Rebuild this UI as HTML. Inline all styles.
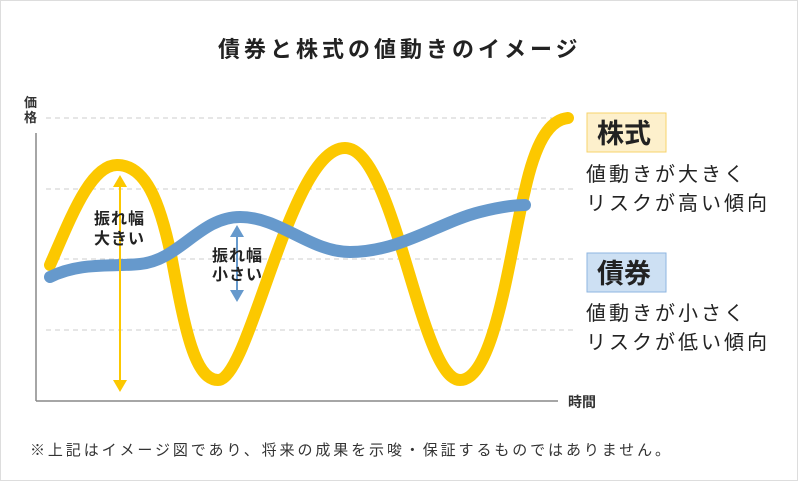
<!DOCTYPE html>
<html><head><meta charset="utf-8"><style>
html,body{margin:0;padding:0;background:#fff}
body{width:800px;height:481px;overflow:hidden;position:relative;font-family:"Liberation Sans","Noto Sans CJK JP",sans-serif;color:#222}
svg{position:absolute;left:0;top:0}
</style></head><body>
<svg width="800" height="481" viewBox="0 0 800 481">
<rect x="0.5" y="0.5" width="797" height="480" fill="none" stroke="#ddd"/>
<text x="218" y="57" font-size="22" font-weight="bold" letter-spacing="4" fill="#222" font-family="Liberation Sans, Noto Sans CJK JP, sans-serif">債券と株式の値動きのイメージ</text>
<g stroke="#ccc" stroke-width="1" stroke-dasharray="5,4">
<line x1="46" y1="118" x2="576" y2="118"/>
<line x1="46" y1="189" x2="576" y2="189"/>
<line x1="46" y1="259" x2="576" y2="259"/>
<line x1="46" y1="330" x2="576" y2="330"/>
</g>
<line x1="36" y1="133" x2="36" y2="401" stroke="#888" stroke-width="1.5"/>
<line x1="36" y1="401" x2="558" y2="401" stroke="#888" stroke-width="1.5"/>
<text x="24" y="107" font-size="13" font-weight="bold" fill="#333" font-family="Liberation Sans, Noto Sans CJK JP, sans-serif">価</text>
<text x="24" y="122" font-size="13" font-weight="bold" fill="#333" font-family="Liberation Sans, Noto Sans CJK JP, sans-serif">格</text>
<text x="568" y="407" font-size="14" font-weight="bold" fill="#333" font-family="Liberation Sans, Noto Sans CJK JP, sans-serif">時間</text>
<path d="M50,265 C70,220 90,165 117,165 C145,165 160,200 172,260 C185,330 195,380 218,380 C250,380 290,148 345,148 C395,148 420,380 460,380 C495,380 510,250 525,190 C535,145 548,120 568,118" fill="none" stroke="#fcc800" stroke-width="12" stroke-linecap="round"/>
<path d="M50,277 C80,262 110,267 140,264 C180,260 200,217 240,217 C280,217 310,252 350,252 C400,252 440,222 480,212 C500,207 515,205 525,205" fill="none" stroke="#6699cc" stroke-width="12" stroke-linecap="round"/>
<line x1="120" y1="185" x2="120" y2="382" stroke="#fcc800" stroke-width="2"/>
<polygon points="113,187 127,187 120,175" fill="#fcc800"/>
<polygon points="113,380 127,380 120,392" fill="#fcc800"/>
<line x1="237" y1="235" x2="237" y2="292" stroke="#6699cc" stroke-width="2"/>
<polygon points="230,237 244,237 237,225" fill="#6699cc"/>
<polygon points="230,290 244,290 237,302" fill="#6699cc"/>
<g font-size="16" font-weight="bold" letter-spacing="1" fill="#222" font-family="Liberation Sans, Noto Sans CJK JP, sans-serif">
<text x="94" y="224">振れ幅</text>
<text x="94" y="244">大きい</text>
<text x="212" y="261">振れ幅</text>
<text x="212" y="280">小さい</text>
</g>
<rect x="587" y="113" width="79" height="39" fill="#fdf0cc" stroke="#f7d36b"/>
<rect x="587" y="253" width="79" height="39" fill="#cde0f3" stroke="#8eb6e0"/>
<g font-family="Liberation Sans, Noto Sans CJK JP, sans-serif" fill="#222">
<text x="597" y="143" font-size="27" font-weight="bold">株式</text>
<text x="597" y="283" font-size="27" font-weight="bold">債券</text>
<g font-size="20" letter-spacing="3">
<text x="586" y="181">値動きが大きく</text>
<text x="586" y="210">リスクが高い傾向</text>
<text x="586" y="320">値動きが小さく</text>
<text x="586" y="349">リスクが低い傾向</text>
</g>
<text x="30" y="455" font-size="15" letter-spacing="2.9" fill="#333">※上記はイメージ図であり、将来の成果を示唆・保証するものではありません。</text>
</g>
</svg>
</body></html>
